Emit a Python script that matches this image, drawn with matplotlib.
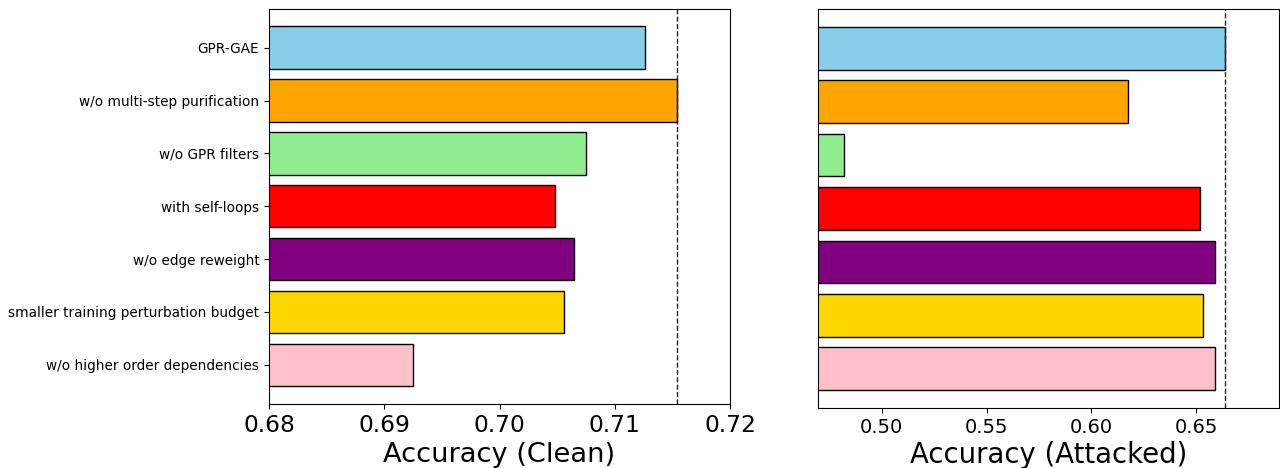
import matplotlib
matplotlib.use("Agg")
import matplotlib.pyplot as plt

variants = ["GPR-GAE", "w/o multi-step purification", "w/o GPR filters",
            "with self-loops", "w/o edge reweight",
            "smaller training perturbation budget", "w/o higher order dependencies"]
colors = ["skyblue", "orange", "lightgreen", "red", "purple", "gold", "pink"]
acc_clean = [0.7126, 0.7154, 0.7075, 0.7048, 0.7065, 0.7056, 0.6925]
acc_attacked = [0.6635, 0.6173, 0.4819, 0.6519, 0.6589, 0.6533, 0.6589]

W, H = 1280, 468
fig = plt.figure(figsize=(W / 100, H / 100), dpi=100)

def pos(l, t, r, b):
    return [l / W, 1 - b / H, (r - l) / W, (b - t) / H]

ax1 = fig.add_axes(pos(269, 8.5, 730, 404))
ax2 = fig.add_axes(pos(818.3, 9, 1279, 408))

ypos = list(range(len(variants)))

ax1.barh(ypos, acc_clean, color=colors, edgecolor="black", linewidth=1)
ax1.axvline(max(acc_clean), color="#222222", linestyle="--", linewidth=1)
ax1.set_xlim(0.68, 0.72)
ax1.set_xticks([0.68, 0.69, 0.70, 0.71, 0.72])
ax1.set_yticks(ypos)
ax1.set_yticklabels(variants, fontsize=9.8)
ax1.invert_yaxis()
ax1.tick_params(axis="x", labelsize=16.8)
ax1.set_xlabel("Accuracy (Clean)", fontsize=19.6, labelpad=4)

ax2.barh(ypos, acc_attacked, color=colors, edgecolor="black", linewidth=1)
ax2.axvline(max(acc_attacked), color="#222222", linestyle="--", linewidth=1)
ax2.set_xlim(0.4697, 0.6895)
ax2.set_xticks([0.50, 0.55, 0.60, 0.65])
ax2.set_yticks([])
ax2.invert_yaxis()
ax2.tick_params(axis="x", labelsize=14)
ax2.set_xlabel("Accuracy (Attacked)", fontsize=19.8, labelpad=3)

fig.savefig("out.png", dpi=100)
